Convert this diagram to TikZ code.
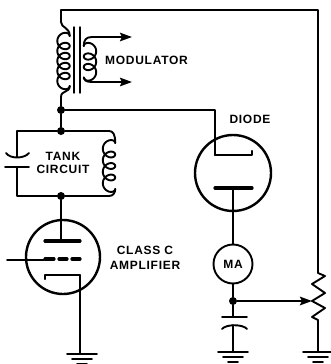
\documentclass[tikz,border=0pt]{standalone}
\usepackage{fontspec}
\setmainfont{Liberation Sans}
\newfontfamily\lblfont[LetterSpace=6]{Liberation Sans}
\usetikzlibrary{arrows.meta}
\tikzset{
	wire/.style={line width=1.9pt},
	tube/.style={circle,draw,line width=2.4pt,inner sep=0pt},
	plate/.style={line width=3.2pt},
	lbl/.style={font=\lblfont\fontsize{12}{13}\selectfont\bfseries,align=center,inner sep=0pt},
	dot/.style={circle,fill,inner sep=0pt,minimum size=8pt},
	tip/.style={-{Stealth[length=12pt,width=8.5pt,inset=2pt]}}
}
% cuon day: x tam, y dau, so vong, buoc, huong
\newcommand{\coilv}[5]{\draw[wire,smooth,samples=#3*24+1,domain=0:360*#3,variable=\t]
	plot({#1+(#5)*6.2*cos(\t)},{#2+(#4)*(\t/360)-5.5*sin(\t)});}
\newcommand{\gnd}[3]{\draw[wire] (#1-15,#2)--(#1+15,#2) (#1-10,#2+5)--(#1+10,#2+5) (#1-5,#2+#3)--(#1+5,#2+#3);}
\begin{document}
\begin{tikzpicture}[x=1pt,y=-1pt,line join=round,line cap=round]
	\useasboundingbox (0,0) rectangle (330,364);
	\def\xa{61} \def\xb{233} \def\xc{318} % Cac truc doc
	\coordinate (topL) at (\xa,10);
	\coordinate (topR) at (\xc,10);
	\node[dot] (jA) at (\xa,110) {};
	\node[dot] (jB) at (\xa,131) {};
	\node[dot] (jC) at (\xa,196) {};
	\node[dot] (jD) at (\xb,301) {};
	\node[tube,minimum size=76pt] (diode) at (\xb,173) {};
	\node[tube,minimum size=74pt] (triode) at (63,257) {};
	\node[tube,minimum size=39pt,line width=1.9pt] (ma) at (\xb,264) {};
	\node[lbl] at (\xb,264) {MA};
	% bien ap
	\draw[wire] (topL)--(\xa,22) .. controls (\xa,28) and (69.7,27) .. (69.7,36);
	\coilv{63.5}{36}{5}{10}{1}
	\draw[wire] (69.7,86) .. controls (69.7,93) and (\xa,90) .. (\xa,97)--(jA);
	\draw[line width=1.4pt] (74,27)--(74,93) (80,27)--(80,93);
	\coilv{90}{46}{3}{10.5}{-1}
	\draw[wire,tip] (83.8,46) .. controls (83.8,40) and (86,37) .. (92,37)--(132,37);
	\draw[wire,tip] (83.8,77.5) .. controls (83.8,80) and (86,82) .. (92,82)--(132,82);
	\node[lbl,anchor=west] at (105,60) {MODULATOR};
	% mach cong huong
	\draw[wire] (jA)--(jB);
	\draw[wire] (jB)--(17,131)--(17,157);
	\draw[wire] (17,167)--(17,196)--(jC);
	\draw[wire] (6,153) .. controls (10,159) and (24,159) .. (29,153);
	\draw[wire] (5,167)--(29,167);
	\draw[wire] (jB)--(109,131) .. controls (113,131) and (115.2,134) .. (115.2,143);
	\coilv{109}{143}{4}{11.5}{1}
	\draw[wire] (115.2,189) .. controls (115.2,193) and (113,196) .. (109,196)--(jC);
	\node[lbl,align=center] at (63,163) {TANK\\CIRCUIT};
	% triode
	\draw[wire] (jC)--(61,241);
	\draw[plate] (45,241)--(80,241);
	\draw[plate] (45,259)--(54,259) (59,259)--(67,259) (72,259)--(80,259);
	\draw[wire] (7,260)--(44,260);
	\draw[line width=2.4pt] (45,279)--(45,275)--(80,275)--(80,282);
	\draw[wire] (80,275)--(80,354);
	\gnd{82}{354}{10}
	\node[lbl,align=center] at (145,258) {CLASS C\\[2pt]AMPLIFIER};
	% diode
	\draw[wire] (jA)--(215,110)--(215,155);
	\draw[line width=2.4pt] (215,155)--(252,155)--(252,151);
	\draw[plate] (215,188)--(252,188);
	\draw[wire] (\xb,188)--(ma.north);
	\node[lbl] at (250,119) {DIODE};
	% MA, tu, dat
	\draw[wire] (ma.south)--(jD);
	\draw[wire] (jD)--(\xb,317);
	\draw[wire] (222,317)--(247,317);
	\draw[wire] (222,329) .. controls (226,324) and (243,324) .. (247,329);
	\draw[wire] (\xb,325)--(\xb,352);
	\gnd{\xb}{352}{10}
	% bien tro
	\draw[wire] (topL)--(topR)--(\xc,273)--(325,276)--(312,284)--(325,293)--(312,301)--(325,308)--(312,317)--(\xc,320)--(\xc,352);
	\draw[line width=2.3pt,tip] (jD)--(312,301);
	\gnd{\xc}{352}{10}
\end{tikzpicture}
\end{document}
